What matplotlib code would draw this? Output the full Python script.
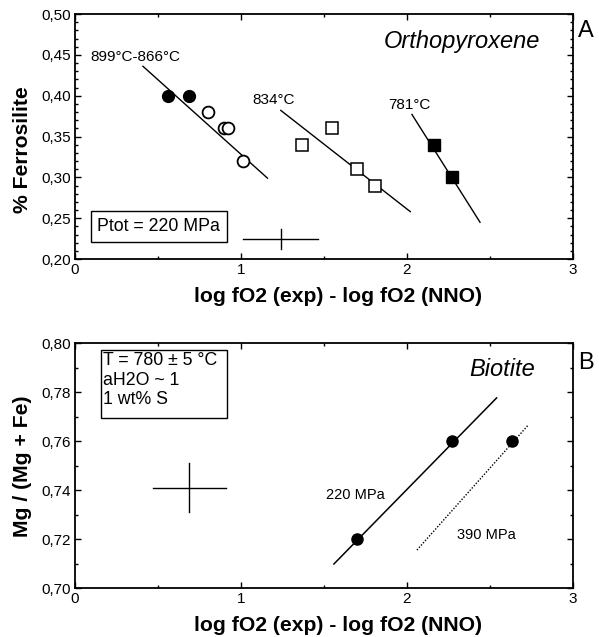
import matplotlib.pyplot as plt
from matplotlib.patches import Rectangle
from matplotlib.ticker import MultipleLocator, FuncFormatter

plt.rcParams['font.family'] = ['Liberation Sans', 'DejaVu Sans']

# orthopyroxene, Ptot = 220 MPa
hot_filled_x = [0.56, 0.69]
hot_filled_y = [0.40, 0.40]
hot_open_x = [0.80, 0.90, 0.92, 1.01]
hot_open_y = [0.38, 0.36, 0.36, 0.32]
hot_line_x = [0.41, 1.16]
hot_line_y = [0.436, 0.299]

mid_open_x = [1.37, 1.55, 1.70, 1.81]
mid_open_y = [0.34, 0.36, 0.31, 0.29]
mid_line_x = [1.24, 2.02]
mid_line_y = [0.382, 0.258]

cold_x = [2.16, 2.27]
cold_y = [0.34, 0.30]
cold_line_x = [2.03, 2.44]
cold_line_y = [0.377, 0.245]

opx_err = (1.24, 0.2245, 0.225, 0.012)

# biotite, T = 780 C
bt220_x = [1.70, 2.27]
bt220_y = [0.72, 0.76]
bt220_line_x = [1.56, 2.54]
bt220_line_y = [0.7098, 0.7776]
bt390_x = [2.63]
bt390_y = [0.76]
bt390_line_x = [2.06, 2.73]
bt390_line_y = [0.7155, 0.7665]

bt_err = (0.69, 0.741, 0.22, 0.010)

xlabel = 'log fO2 (exp) - log fO2 (NNO)'


def comma_fmt(nd):
    return FuncFormatter(lambda v, p: ('%.*f' % (nd, v)).replace('.', ','))


def setup(ax, ylo, yhi, ymaj, ymin_step, ylabel, ylab_pos):
    ax.set_xlim(0, 3)
    ax.set_ylim(ylo, yhi)
    ax.xaxis.set_major_locator(MultipleLocator(1))
    ax.xaxis.set_minor_locator(MultipleLocator(0.5))
    ax.yaxis.set_major_locator(MultipleLocator(ymaj))
    ax.yaxis.set_minor_locator(MultipleLocator(ymin_step))
    ax.yaxis.set_major_formatter(comma_fmt(2))
    ax.xaxis.set_major_formatter(FuncFormatter(lambda v, p: '%d' % v))
    ax.tick_params(which='both', direction='in', top=True, right=True,
                   labelsize=11, width=1)
    ax.tick_params(which='major', length=4, pad=3)
    ax.tick_params(which='minor', length=2.5)
    for s in ax.spines.values():
        s.set_linewidth(1.3)
    ax.set_xlabel(xlabel, fontsize=15.2, fontweight='bold')
    ax.xaxis.set_label_coords(0.528, -0.115)
    ax.set_ylabel(ylabel, fontsize=15.2, fontweight='bold')
    ax.yaxis.set_label_coords(-0.087, ylab_pos)


def cross(ax, e):
    x, y, dx, dy = e
    ax.plot([x - dx, x + dx], [y, y], color='k', lw=1)
    ax.plot([x, x], [y - dy, y + dy], color='k', lw=1)


fig = plt.figure(figsize=(5.99, 6.37), dpi=100)

# --- panel A
ax1 = fig.add_axes([0.125, 0.5934, 0.8316, 0.3846])
setup(ax1, 0.20, 0.50, 0.05, 0.01, '% Ferrosilite', 0.445)

ax1.plot(hot_line_x, hot_line_y, color='k', lw=1)
ax1.plot(mid_line_x, mid_line_y, color='k', lw=1)
ax1.plot(cold_line_x, cold_line_y, color='k', lw=1)
ax1.plot(hot_filled_x, hot_filled_y, 'o', color='k', ms=8.5)
ax1.plot(hot_open_x, hot_open_y, 'o', mfc='white', mec='k', mew=1.3, ms=8.5)
ax1.plot(mid_open_x, mid_open_y, 's', mfc='white', mec='k', mew=1.1, ms=8.5)
ax1.plot(cold_x, cold_y, 's', color='k', ms=9)
cross(ax1, opx_err)

ax1.text(0.095, 0.447, '899°C-866°C', fontsize=11, va='center')
ax1.text(1.07, 0.395, '834°C', fontsize=11, va='center')
ax1.text(1.886, 0.389, '781°C', fontsize=11, va='center')
ax1.text(2.80, 0.466, 'Orthopyroxene', fontsize=17, style='italic', ha='right', va='center')
ax1.text(1.01, 0.93, 'A', transform=ax1.transAxes, fontsize=17, va='center')
ax1.text(0.135, 0.2395, 'Ptot = 220 MPa', fontsize=12.8, va='center',
         bbox=dict(boxstyle='square,pad=0.38', fc='white', ec='k', lw=1))

# --- panel B
ax2 = fig.add_axes([0.125, 0.0769, 0.8316, 0.3846])
setup(ax2, 0.70, 0.80, 0.02, 0.01, 'Mg / (Mg + Fe)', 0.498)

ax2.plot(bt220_line_x, bt220_line_y, color='k', lw=1.1)
ax2.plot(bt390_line_x, bt390_line_y, color='k', lw=1, ls=(0, (1, 1.2)))
ax2.plot(bt220_x, bt220_y, 'o', color='k', ms=8)
ax2.plot(bt390_x, bt390_y, 'o', color='k', ms=8)
cross(ax2, bt_err)

ax2.text(1.51, 0.738, '220 MPa', fontsize=10.5, va='center')
ax2.text(2.30, 0.7216, '390 MPa', fontsize=10.5, va='center')
ax2.text(2.77, 0.789, 'Biotite', fontsize=17, style='italic', ha='right', va='center')
ax2.text(1.01, 0.92, 'B', transform=ax2.transAxes, fontsize=17, va='center')

# conditions box
ax2.add_patch(Rectangle((0.157, 0.7694), 0.759, 0.0277, fc='white', ec='k', lw=1, zorder=3))
ax2.text(0.169, 0.7963, 'T = 780 ± 5 °C\naH2O ~ 1\n1 wt% S', fontsize=12.8,
         va='top', linespacing=1.2, zorder=4)

fig.savefig('out.png', dpi=100)
